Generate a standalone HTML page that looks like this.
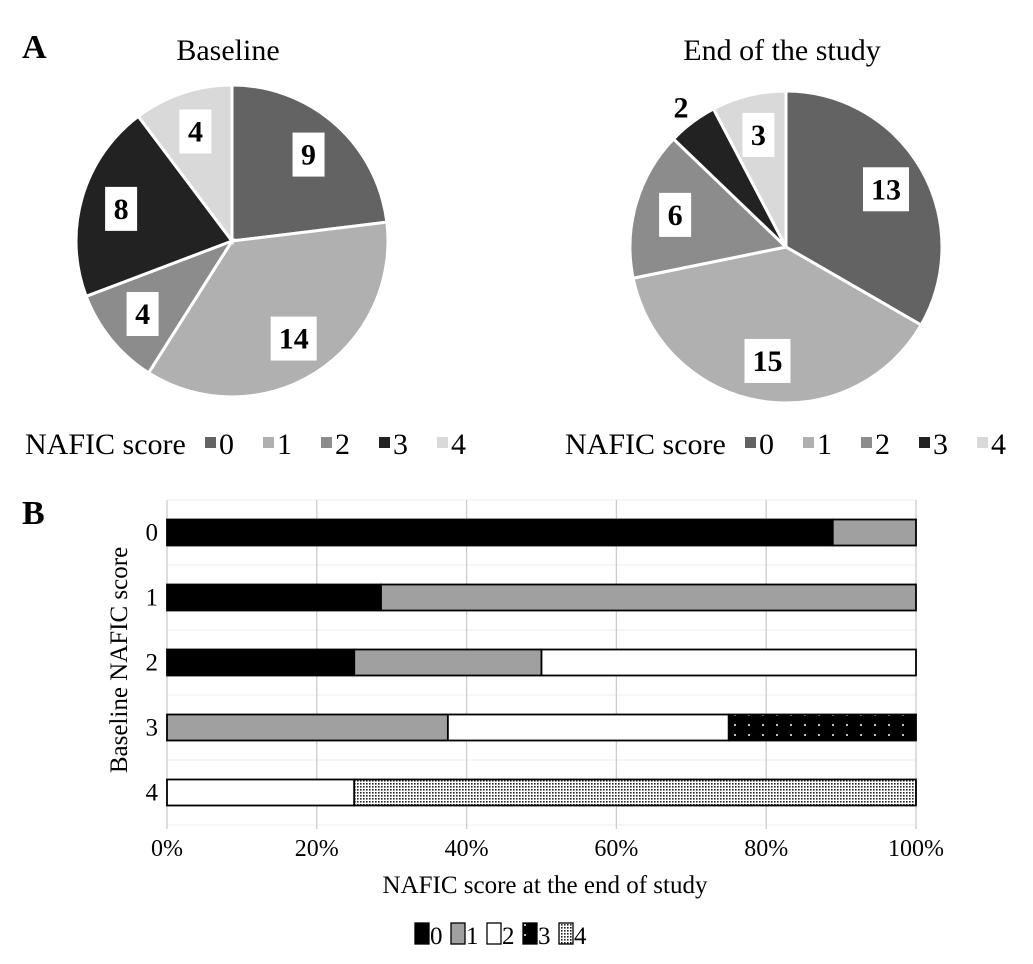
<!DOCTYPE html>
<html><head><meta charset="utf-8"><style>
body{margin:0;background:#fff;}
svg{display:block;font-family:"Liberation Serif",serif;}
</style></head><body>
<svg id="fig" width="1033" height="964" viewBox="0 0 1033 964">
<defs>
<pattern id="p3" width="14" height="10" patternUnits="userSpaceOnUse"><rect width="14" height="10" fill="#000"/><circle cx="7" cy="5" r="1" fill="#fff"/></pattern>
<pattern id="p4" width="3" height="3" patternUnits="userSpaceOnUse"><rect width="3" height="3" fill="#fff"/><rect x="0" y="0" width="1.6" height="1.6" fill="#222"/></pattern>
</defs>
<text x="22" y="58" font-size="34" font-weight="bold">A</text>
<text x="22" y="524" font-size="34" font-weight="bold">B</text>
<g id="pies"></g>
<g id="bars"></g>
</svg>
<script>
const pieCategories = ['0','1','2','3','4'];
const baselineValues = [9,14,4,8,4];
const endValues = [13,15,6,2,3];
const pieColors = ['#636363','#b0b0b0','#8c8c8c','#222222','#d9d9d9'];
const barRows = ['0','1','2','3','4'];
const row0 = [8,1,0,0,0];
const row1 = [4,10,0,0,0];
const row2 = [1,1,2,0,0];
const row3 = [0,3,3,2,0];
const row4 = [0,0,1,0,3];
const xTicks = [0,20,40,60,80,100];
const barFills = ['#000','#a0a0a0','#fff','url(#p3)','url(#p4)'];

const NS='http://www.w3.org/2000/svg';
function mk(tag,attrs,parent){const e=document.createElementNS(NS,tag);for(const k in attrs)e.setAttribute(k,attrs[k]);parent.appendChild(e);return e;}
const pies=document.getElementById('pies');

function drawPie(vals,cx,cy,r,title,lx,name,outsideIdx){
  const g=mk('g',{},pies);
  
  
  const t=mk('text',{x:cx-4,y:60,'font-size':30,'text-anchor':'middle'},g);
  t.textContent=title;
  
  
  const tot=vals.reduce((a,b)=>a+b,0);
  let a0=0;
  vals.forEach((v,i)=>{
    const a1=a0+v/tot*2*Math.PI;
    const x0=cx+r*Math.sin(a0),y0=cy-r*Math.cos(a0),x1=cx+r*Math.sin(a1),y1=cy-r*Math.cos(a1);
    const p=mk('path',{d:`M${cx},${cy}L${x0},${y0}A${r},${r} 0 ${a1-a0>Math.PI?1:0} 1 ${x1},${y1}Z`,fill:pieColors[i],stroke:'#fff','stroke-width':3},g);
    
    
    const am=(a0+a1)/2;
    const k=i===outsideIdx?1.12:0.74;
    const lxp=cx+r*k*Math.sin(am),lyp=cy-r*k*Math.cos(am);
    const s=String(v);const w=s.length>1?46:32;
    if(i!==outsideIdx){
      const b=mk('rect',{x:lxp-w/2,y:lyp-22,width:w,height:44,fill:'#fff'},g);
      
      
    }
    const tt=mk('text',{x:lxp,y:lyp+10,'font-size':30,'font-weight':'bold','text-anchor':'middle'},g);
    tt.textContent=s;
    
    
    a0=a1;
  });
  const lg=mk('g',{},g);
  
  
  const lt=mk('text',{x:lx,y:454,'font-size':30},lg);
  lt.textContent='NAFIC score';
  
  
  let x=lx+180;
  pieCategories.forEach((c,i)=>{
    const sq=mk('rect',{x:x,y:437,width:11,height:11,fill:pieColors[i]},lg);
    
    
    const ct=mk('text',{x:x+14,y:454,'font-size':30},lg);
    ct.textContent=c;
    
    
    x+=58;
  });
}
drawPie(baselineValues,232,241,156,'Baseline',25,'baseline-pie',-1);
drawPie(endValues,786,247,156,'End of the study',565,'end-pie',3);

// Bar chart
const bars=document.getElementById('bars');
const x0=167,x1=916,yTop=500,yBot=825;
const xs=p=>x0+(x1-x0)*p/100;
const rowH=(yBot-yTop)/barRows.length;
const yc=i=>yTop+rowH*(i+0.5);
for(let i=0;i<=barRows.length;i++){
  const l=mk('line',{x1:x0,x2:x1,y1:yTop+rowH*i,y2:yTop+rowH*i,stroke:'#eee','stroke-width':1},bars);
  
  
}
xTicks.forEach(t=>{
  const l=mk('line',{x1:xs(t),x2:xs(t),y1:yTop,y2:yBot+4,stroke:'#ccc','stroke-width':1.3},bars);
  
  
  const tx=mk('text',{x:xs(t),y:856,'font-size':24,'text-anchor':'middle'},bars);
  tx.textContent=t+'%';
  
  
});
const rows=[row0,row1,row2,row3,row4];
rows.forEach((r,i)=>{
  const tot=r.reduce((a,b)=>a+b,0);
  let acc=0;
  r.forEach((v,j)=>{
    if(!v)return;
    const p0=acc/tot*100,p1=(acc+v)/tot*100;
    const b=mk('rect',{x:xs(p0),y:yc(i)-13,width:xs(p1)-xs(p0),height:26,fill:barFills[j],stroke:'#000','stroke-width':1.8},bars);
    
    
    acc+=v;
  });
  const lt=mk('text',{x:158,y:yc(i)+8,'font-size':25,'text-anchor':'end'},bars);
  lt.textContent=barRows[i];
  
  
});
const yt=mk('text',{x:0,y:0,'font-size':25,'text-anchor':'middle',transform:'translate(127,660) rotate(-90)'},bars);
yt.textContent='Baseline NAFIC score';


const xt=mk('text',{x:545,y:893,'font-size':25,'text-anchor':'middle'},bars);
xt.textContent='NAFIC score at the end of study';


let lx=415;
barFills.forEach((f,j)=>{
  const r=mk('rect',{x:lx,y:923,width:14,height:21,fill:f,stroke:'#000','stroke-width':1.3},bars);
  
  
  const t=mk('text',{x:lx+15,y:944,'font-size':25},bars);
  t.textContent=String(j);
  
  
  lx+=36;
});
</script>
</body></html>
